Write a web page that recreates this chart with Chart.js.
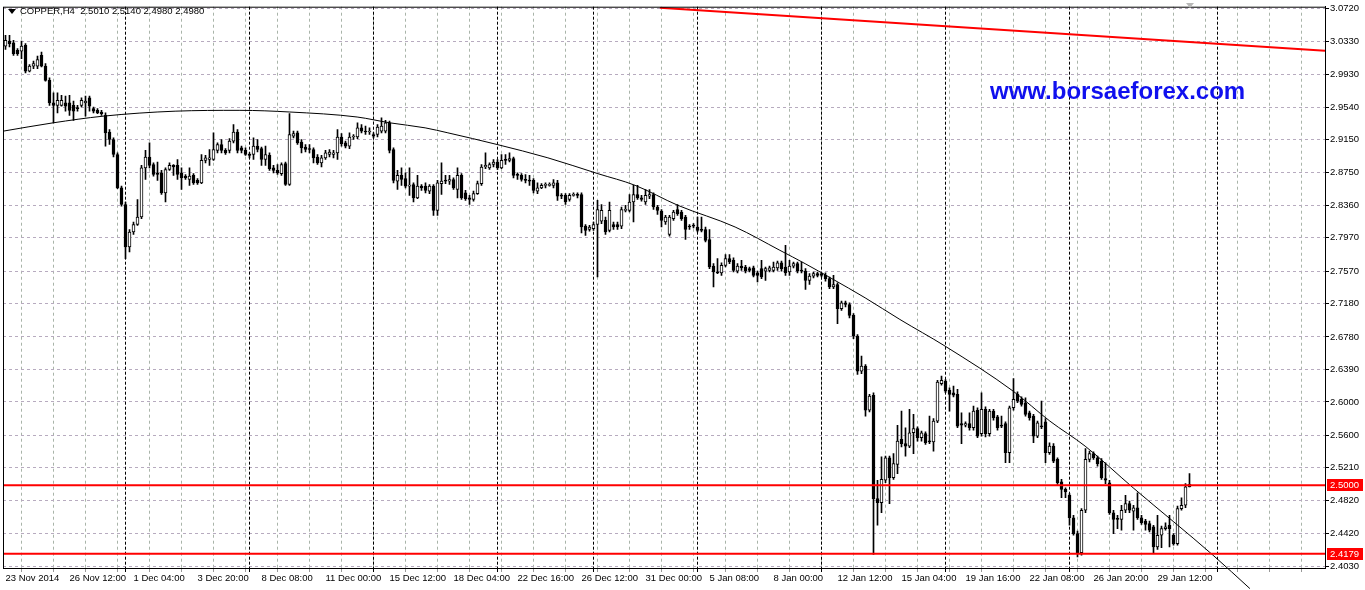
<!DOCTYPE html>
<html>
<head>
<meta charset="utf-8">
<title>COPPER,H4</title>
<script src="https://cdn.jsdelivr.net/npm/chart.js@4.4.1/dist/chart.umd.min.js"></script>
<style>
  html, body { margin: 0; padding: 0; background: #fff; }
  #wrap { position: relative; width: 1365px; height: 590px; overflow: hidden; }
  canvas { display: block; }
  #tri { position: absolute; left: 8px; top: 9px; width: 0; height: 0;
         border-left: 4px solid transparent; border-right: 4px solid transparent; border-top: 5px solid #000; }
  #title { position: absolute; left: 20px; top: 5px; line-height: 12px; white-space: pre;
           font: 9.5px "Liberation Sans", Arial, sans-serif; color: #000; }
  #shift { position: absolute; left: 1186px; top: 3px; width: 0; height: 0;
           border-left: 4px solid transparent; border-right: 4px solid transparent; border-top: 5px solid #b8b8b8; }
  #site { position: absolute; left: 990px; top: 77px; line-height: 24px; white-space: nowrap;
          font: bold 24px "Liberation Sans", Arial, sans-serif; color: #1010ee; }
</style>
</head>
<body>
<div id="wrap">
  <canvas id="chart" width="1365" height="590"></canvas>
  <div id="tri"></div>
  <div id="title">COPPER,H4  2.5010 2.5140 2.4980 2.4980</div>
  <div id="shift"></div>
  <div id="site">www.borsaeforex.com</div>
</div>
<script>
// H4 candles, one entry per bar (bar 0 = 23 Nov 2014 20:00)
const opens = [
  3.027,3.033,3.031,3.022,3.021,3.028,2.997,3.003,3.003,3.016,
  3.003,2.986,2.959,2.956,2.956,2.959,2.959,2.956,2.953,2.956,
  2.959,2.965,2.952,2.950,2.948,2.944,2.924,2.915,2.897,2.857,
  2.837,2.786,2.804,2.813,2.822,2.881,2.894,2.885,2.875,2.875,
  2.851,2.879,2.884,2.884,2.875,2.871,2.867,2.872,2.866,2.863,
  2.890,2.891,2.891,2.902,2.909,2.902,2.902,2.913,2.924,2.905,
  2.902,2.897,2.897,2.907,2.904,2.891,2.896,2.881,2.878,2.874,
  2.886,2.861,2.919,2.923,2.912,2.906,2.904,2.903,2.894,2.887,
  2.893,2.897,2.897,2.899,2.918,2.911,2.907,2.918,2.918,2.929,
  2.925,2.924,2.921,2.921,2.925,2.925,2.935,2.903,2.865,2.872,
  2.868,2.859,2.861,2.845,2.859,2.859,2.853,2.859,2.830,2.862,
  2.866,2.865,2.867,2.855,2.872,2.851,2.845,2.843,2.850,2.862,
  2.882,2.881,2.885,2.888,2.881,2.891,2.890,2.892,2.873,2.872,
  2.867,2.866,2.866,2.853,2.857,2.860,2.860,2.860,2.863,2.848,
  2.848,2.843,2.848,2.849,2.849,2.811,2.807,2.808,2.813,2.817,
  2.818,2.806,2.813,2.813,2.811,2.830,2.830,2.840,2.849,2.845,
  2.840,2.847,2.849,2.834,2.829,2.816,2.801,2.820,2.831,2.828,
  2.822,2.811,2.812,2.810,2.807,2.807,2.795,2.763,2.756,2.755,
  2.764,2.772,2.770,2.757,2.763,2.762,2.760,2.761,2.755,2.760,
  2.757,2.758,2.758,2.761,2.767,2.762,2.756,2.763,2.766,2.758,
  2.757,2.746,2.751,2.754,2.754,2.752,2.748,2.738,2.741,2.712,
  2.719,2.717,2.704,2.679,2.637,2.643,2.590,2.608,2.484,2.479,
  2.506,2.533,2.509,2.525,2.555,2.550,2.547,2.563,2.568,2.557,
  2.562,2.553,2.552,2.577,2.622,2.625,2.614,2.611,2.609,2.574,
  2.572,2.574,2.569,2.590,2.562,2.591,2.562,2.589,2.582,2.572,
  2.574,2.539,2.593,2.609,2.603,2.599,2.587,2.583,2.559,2.571,
  2.576,2.539,2.547,2.531,2.504,2.495,2.488,2.461,2.442,2.419,
  2.470,2.531,2.538,2.533,2.529,2.508,2.503,2.467,2.460,2.459,
  2.470,2.478,2.469,2.473,2.461,2.457,2.454,2.450,2.426,2.440,
  2.448,2.452,2.440,2.430,2.472,2.476,2.501
];
const highs = [
  3.040,3.040,3.034,3.024,3.033,3.030,3.005,3.009,3.015,3.020,
  3.006,2.989,2.971,2.971,2.968,2.967,2.968,2.961,2.956,2.965,
  2.967,2.967,2.954,2.952,2.950,2.947,2.927,2.917,2.899,2.859,
  2.840,2.807,2.816,2.843,2.884,2.902,2.911,2.887,2.888,2.878,
  2.881,2.887,2.885,2.891,2.881,2.873,2.881,2.874,2.868,2.897,
  2.896,2.903,2.923,2.911,2.915,2.904,2.916,2.933,2.927,2.907,
  2.905,2.899,2.917,2.915,2.906,2.907,2.899,2.884,2.885,2.887,
  2.888,2.946,2.925,2.925,2.915,2.909,2.909,2.905,2.897,2.896,
  2.902,2.903,2.902,2.927,2.922,2.913,2.923,2.921,2.935,2.933,
  2.931,2.929,2.923,2.933,2.941,2.938,2.937,2.905,2.878,2.881,
  2.875,2.881,2.863,2.872,2.861,2.863,2.861,2.861,2.866,2.887,
  2.872,2.872,2.869,2.881,2.874,2.854,2.848,2.853,2.865,2.885,
  2.899,2.887,2.891,2.891,2.897,2.897,2.899,2.894,2.875,2.874,
  2.873,2.872,2.868,2.863,2.862,2.863,2.863,2.867,2.866,2.850,
  2.850,2.850,2.851,2.851,2.851,2.813,2.812,2.816,2.842,2.837,
  2.822,2.840,2.816,2.816,2.834,2.836,2.849,2.860,2.860,2.848,
  2.855,2.855,2.851,2.836,2.831,2.824,2.824,2.830,2.837,2.830,
  2.824,2.813,2.814,2.822,2.822,2.810,2.807,2.766,2.772,2.767,
  2.777,2.777,2.773,2.766,2.770,2.764,2.762,2.763,2.757,2.770,
  2.762,2.763,2.768,2.769,2.769,2.788,2.770,2.768,2.768,2.768,
  2.760,2.754,2.756,2.756,2.755,2.755,2.750,2.752,2.743,2.721,
  2.721,2.719,2.706,2.681,2.655,2.645,2.609,2.611,2.506,2.534,
  2.535,2.535,2.538,2.572,2.589,2.569,2.591,2.585,2.570,2.565,
  2.564,2.583,2.580,2.626,2.631,2.627,2.617,2.619,2.615,2.587,
  2.576,2.587,2.595,2.593,2.611,2.594,2.591,2.591,2.584,2.583,
  2.576,2.595,2.628,2.612,2.606,2.605,2.589,2.585,2.577,2.601,
  2.580,2.551,2.550,2.533,2.507,2.497,2.490,2.464,2.445,2.472,
  2.544,2.541,2.540,2.535,2.532,2.527,2.506,2.470,2.464,2.476,
  2.488,2.481,2.476,2.491,2.464,2.459,2.457,2.452,2.464,2.451,
  2.455,2.464,2.442,2.475,2.485,2.502,2.514
];
const lows = [
  3.023,3.026,3.016,3.016,3.012,2.995,2.996,3.000,3.000,3.002,
  2.985,2.956,2.935,2.947,2.955,2.949,2.944,2.938,2.949,2.954,
  2.943,2.949,2.947,2.946,2.944,2.907,2.909,2.894,2.856,2.835,
  2.772,2.780,2.801,2.812,2.820,2.867,2.881,2.871,2.866,2.849,
  2.840,2.878,2.872,2.867,2.855,2.867,2.860,2.861,2.861,2.862,
  2.887,2.884,2.890,2.899,2.899,2.897,2.899,2.911,2.899,2.899,
  2.896,2.893,2.891,2.900,2.884,2.884,2.878,2.875,2.873,2.872,
  2.860,2.860,2.917,2.909,2.899,2.900,2.899,2.887,2.885,2.882,
  2.891,2.894,2.893,2.891,2.907,2.905,2.904,2.915,2.916,2.923,
  2.921,2.921,2.917,2.918,2.923,2.923,2.899,2.863,2.855,2.860,
  2.857,2.848,2.840,2.844,2.854,2.851,2.850,2.824,2.824,2.849,
  2.862,2.861,2.855,2.845,2.843,2.842,2.837,2.841,2.849,2.860,
  2.880,2.879,2.882,2.879,2.880,2.885,2.888,2.869,2.867,2.865,
  2.863,2.860,2.851,2.850,2.856,2.857,2.859,2.857,2.842,2.844,
  2.837,2.841,2.847,2.845,2.803,2.800,2.805,2.806,2.750,2.814,
  2.801,2.804,2.807,2.807,2.808,2.828,2.828,2.816,2.843,2.841,
  2.837,2.844,2.831,2.825,2.810,2.813,2.799,2.818,2.824,2.818,
  2.795,2.807,2.809,2.804,2.804,2.792,2.760,2.738,2.754,2.752,
  2.762,2.766,2.756,2.755,2.758,2.755,2.756,2.750,2.744,2.748,
  2.746,2.756,2.756,2.758,2.757,2.752,2.752,2.761,2.755,2.755,
  2.735,2.741,2.749,2.750,2.750,2.745,2.736,2.736,2.694,2.710,
  2.714,2.701,2.676,2.633,2.634,2.583,2.588,2.417,2.452,2.467,
  2.503,2.478,2.507,2.514,2.546,2.535,2.545,2.538,2.553,2.553,
  2.549,2.550,2.541,2.575,2.620,2.611,2.589,2.606,2.569,2.550,
  2.570,2.566,2.566,2.557,2.559,2.558,2.559,2.578,2.566,2.569,
  2.527,2.527,2.590,2.599,2.595,2.583,2.578,2.551,2.557,2.568,
  2.527,2.537,2.527,2.501,2.485,2.485,2.452,2.440,2.414,2.416,
  2.467,2.528,2.531,2.523,2.507,2.502,2.465,2.442,2.448,2.446,
  2.467,2.467,2.446,2.459,2.453,2.446,2.444,2.419,2.423,2.425,
  2.446,2.426,2.428,2.428,2.470,2.473,2.498
];
const closes = [
  3.034,3.030,3.018,3.018,3.027,2.997,3.003,3.006,3.011,3.003,
  2.986,2.959,2.956,2.962,2.962,2.955,2.950,2.949,2.952,2.962,
  2.961,2.955,2.949,2.947,2.946,2.923,2.915,2.897,2.857,2.837,
  2.786,2.804,2.813,2.822,2.881,2.894,2.884,2.873,2.873,2.851,
  2.879,2.884,2.882,2.873,2.869,2.869,2.871,2.863,2.863,2.890,
  2.893,2.893,2.903,2.909,2.902,2.899,2.913,2.924,2.902,2.902,
  2.897,2.896,2.907,2.903,2.891,2.897,2.880,2.878,2.875,2.885,
  2.861,2.921,2.922,2.911,2.905,2.903,2.903,2.893,2.887,2.893,
  2.899,2.900,2.899,2.918,2.910,2.907,2.918,2.919,2.929,2.925,
  2.924,2.925,2.919,2.930,2.931,2.935,2.902,2.866,2.872,2.867,
  2.859,2.860,2.845,2.859,2.857,2.854,2.859,2.830,2.863,2.865,
  2.865,2.867,2.857,2.872,2.845,2.844,2.843,2.850,2.862,2.882,
  2.884,2.885,2.888,2.881,2.890,2.890,2.892,2.872,2.872,2.867,
  2.866,2.865,2.854,2.857,2.860,2.861,2.861,2.863,2.847,2.847,
  2.840,2.848,2.849,2.848,2.810,2.806,2.810,2.813,2.831,2.830,
  2.804,2.830,2.810,2.810,2.831,2.831,2.840,2.849,2.845,2.843,
  2.848,2.849,2.834,2.830,2.818,2.822,2.822,2.828,2.826,2.820,
  2.807,2.810,2.811,2.806,2.806,2.794,2.762,2.756,2.755,2.764,
  2.772,2.768,2.758,2.763,2.761,2.757,2.758,2.752,2.752,2.750,
  2.760,2.761,2.762,2.767,2.760,2.755,2.763,2.766,2.757,2.757,
  2.746,2.751,2.754,2.752,2.752,2.748,2.738,2.741,2.712,2.719,
  2.717,2.704,2.679,2.637,2.643,2.590,2.607,2.484,2.479,2.507,
  2.533,2.509,2.526,2.553,2.550,2.547,2.563,2.568,2.557,2.563,
  2.551,2.552,2.577,2.624,2.626,2.613,2.609,2.608,2.571,2.572,
  2.574,2.569,2.589,2.559,2.591,2.562,2.589,2.581,2.569,2.571,
  2.539,2.593,2.603,2.601,2.597,2.585,2.581,2.559,2.575,2.570,
  2.539,2.547,2.529,2.503,2.495,2.492,2.461,2.442,2.419,2.470,
  2.531,2.538,2.533,2.526,2.509,2.506,2.467,2.459,2.459,2.470,
  2.478,2.470,2.473,2.461,2.455,2.453,2.446,2.426,2.440,2.448,
  2.450,2.448,2.430,2.472,2.476,2.498,2.498
];

// time axis labels, one every 16 bars
const xLabels = ['23 Nov 2014','26 Nov 12:00','1 Dec 04:00','3 Dec 20:00','8 Dec 08:00','11 Dec 00:00',
  '15 Dec 12:00','18 Dec 04:00','22 Dec 16:00','26 Dec 12:00','31 Dec 00:00','5 Jan 08:00','8 Jan 00:00',
  '12 Jan 12:00','15 Jan 04:00','19 Jan 16:00','22 Jan 08:00','26 Jan 20:00','29 Jan 12:00'];
// price axis labels
const yTicks = [3.0720,3.0330,2.9930,2.9540,2.9150,2.8750,2.8360,2.7970,2.7570,2.7180,
  2.6780,2.6390,2.6000,2.5600,2.5210,2.4820,2.4420,2.4030];
// weekly separators (bar positions)
const separators = [30,61,92,123,147,173,204,235,266,303];
// horizontal levels
const levels = [2.5000, 2.4179];
// hand drawn curve
const arcBars = [-0.625,11.9,24.4,42.4,58.6,71.1,87.9,96.1,104.9,110.6,122.9,135.6,148.1,157.4,
  168.1,182.4,193.6,199.9,206.6,214.9,223.6,234.9,251.9,261.1,269.9,281.9,301.9,311.1];
const arcPrices = [2.925,2.935,2.943,2.949,2.950,2.948,2.942,2.935,2.929,2.923,2.909,2.893,2.874,2.860,
  2.836,2.810,2.782,2.766,2.748,2.725,2.699,2.667,2.613,2.577,2.547,2.497,2.416,2.376];
// red trend line at the top
const trendBars = [163.6, 329.875];
const trendPrices = [3.0732, 3.0214];

const xMin = -0.625, xMax = 329.875;
const yMin = 2.4007, yMax = 3.0744;
const FONT = '"Liberation Sans", Arial, sans-serif';

Chart.defaults.font.family = FONT;
Chart.defaults.font.size = 9.5;
Chart.defaults.color = '#000';

const bodies = opens.map((o, i) => ({ x: i, y: [o, closes[i]] }));
const wicks = highs.map((h, i) => ({ x: i, y: [lows[i], h] }));
const bodyColors = opens.map((o, i) => (closes[i] > o ? '#ffffff' : '#000000'));

const levelSets = levels.map(v => ({
  type: 'line',
  data: [{ x: xMin, y: v }, { x: xMax, y: v }],
  borderColor: '#ff0000', borderWidth: 2, pointRadius: 0, order: 0
}));

// separators, frame and red price labels
const mtDecor = {
  id: 'mtDecor',
  beforeDatasetsDraw(chart) {
    const { ctx, chartArea: a, scales: { x } } = chart;
    ctx.save();
    ctx.strokeStyle = '#000';
    ctx.lineWidth = 1;
    separators.forEach(b => {
      const px = Math.floor(x.getPixelForValue(b)) + 0.5;
      ctx.setLineDash([3, 2]);
      ctx.beginPath(); ctx.moveTo(px, a.top); ctx.lineTo(px, a.bottom); ctx.stroke();
      ctx.setLineDash([]);
      ctx.beginPath(); ctx.moveTo(px, a.bottom); ctx.lineTo(px, a.bottom + 4); ctx.stroke();
    });
    ctx.restore();
  },
  afterDraw(chart) {
    const { ctx, chartArea: a, scales: { y } } = chart;
    ctx.save();
    ctx.strokeStyle = '#000';
    ctx.lineWidth = 1;
    ctx.strokeRect(a.left + 0.5, a.top + 0.5, a.right - a.left, a.bottom - a.top);
    ctx.font = '9.5px ' + FONT;
    ctx.textBaseline = 'middle';
    levels.forEach(v => {
      const py = Math.round(y.getPixelForValue(v));
      ctx.fillStyle = '#ff0000';
      ctx.fillRect(a.right + 2, py - 6, 36, 12);
      ctx.fillStyle = '#ffffff';
      ctx.fillText(v.toFixed(4), a.right + 5, py + 0.5);
    });
    ctx.restore();
  }
};

new Chart(document.getElementById('chart'), {
  type: 'bar',
  data: {
    datasets: [
      ...levelSets,
      {
        type: 'line',
        data: trendBars.map((b, i) => ({ x: b, y: trendPrices[i] })),
        borderColor: '#ff0000', borderWidth: 2, pointRadius: 0, order: 0
      },
      {
        type: 'line',
        data: arcBars.map((b, i) => ({ x: b, y: arcPrices[i] })),
        borderColor: '#000', borderWidth: 1, pointRadius: 0, clip: false, order: 1,
        cubicInterpolationMode: 'monotone'
      },
      {
        data: bodies, backgroundColor: bodyColors, borderColor: '#000', borderWidth: 1,
        borderSkipped: false, barThickness: 3, minBarLength: 1, grouped: false, order: 2
      },
      {
        data: wicks, backgroundColor: '#000', borderWidth: 0,
        barThickness: 1, grouped: false, order: 3
      }
    ]
  },
  options: {
    responsive: false,
    animation: false,
    devicePixelRatio: 1,
    layout: { padding: { top: 3, left: 3, right: 0, bottom: 0 } },
    plugins: { legend: { display: false }, tooltip: { enabled: false } },
    scales: {
      x: {
        type: 'linear', min: xMin, max: xMax, offset: false,
        afterBuildTicks: s => {
          const t = [];
          for (let v = 0; v <= xMax; v += 8) t.push({ value: v });
          s.ticks = t;
        },
        afterFit: s => { s.height = 22; },
        ticks: {
          autoSkip: false, maxRotation: 0, minRotation: 0, align: 'start', padding: 1,
          callback: v => (v % 16 === 0 ? (xLabels[v / 16] || '') : '')
        },
        grid: {
          color: c => (c.tick && c.tick.value === 0 ? 'rgba(0,0,0,0)' : '#a9b4a9'),
          tickColor: '#999', tickLength: 4, tickBorderDash: []
        },
        border: { display: true, color: '#000', dash: [3, 3] }
      },
      y: {
        type: 'linear', position: 'right', min: yMin, max: yMax,
        afterBuildTicks: s => { s.ticks = yTicks.map(v => ({ value: v })); },
        afterFit: s => { s.width = 40; },
        ticks: { autoSkip: false, padding: 1, callback: v => v.toFixed(4) },
        grid: { color: '#b7abbf', tickColor: '#000', tickLength: 4, tickBorderDash: [] },
        border: { display: true, color: '#000', dash: [3, 3] }
      }
    }
  },
  plugins: [mtDecor]
});
</script>
</body>
</html>
